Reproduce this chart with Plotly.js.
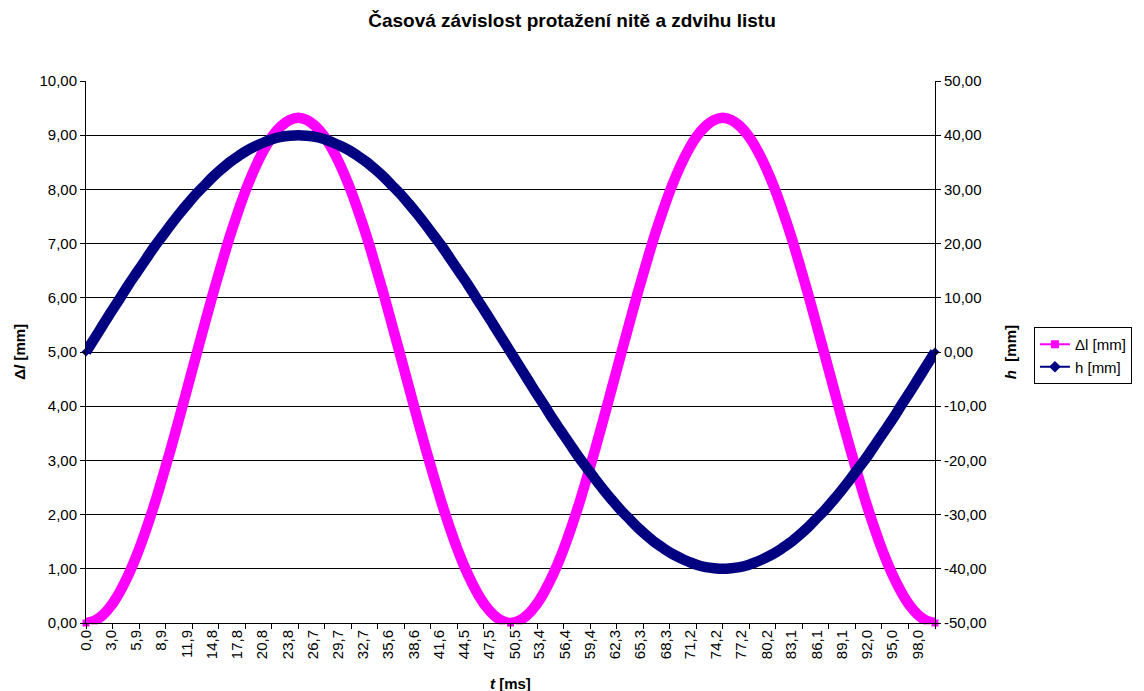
<!DOCTYPE html>
<html>
<head>
<meta charset="utf-8">
<script src="https://cdn.plot.ly/plotly-3.0.1.min.js"></script>
<style>html,body{margin:0;padding:0;background:#fff;}#chart{width:1144px;height:691px;}</style>
</head>
<body>
<div id="chart"></div>
<script>
// time [ms]
var t = [0,1,2,3,4,5,6,7,8,9,10,11,12,13,14,15,16,17,18,19,20,21,22,23,24,25,26,27,28,29,30,31,32,33,34,35,36,37,38,39,40,41,42,43,44,45,46,47,48,49,50,51,52,53,54,55,56,57,58,59,60,61,62,63,64,65,66,67,68,69,70,71,72,73,74,75,76,77,78,79,80,81,82,83,84,85,86,87,88,89,90,91,92,93,94,95,96,97,98,99,100];
// thread elongation Δl [mm]
var dl = [0.00,0.04,0.15,0.33,0.58,0.89,1.26,1.69,2.16,2.68,3.22,3.79,4.37,4.95,5.53,6.10,6.64,7.16,7.63,8.06,8.43,8.74,8.99,9.17,9.28,9.32,9.28,9.17,8.99,8.74,8.43,8.06,7.63,7.16,6.64,6.10,5.53,4.95,4.37,3.79,3.22,2.68,2.16,1.69,1.26,0.89,0.58,0.33,0.15,0.04,0.00,
          0.04,0.15,0.33,0.58,0.89,1.26,1.69,2.16,2.68,3.22,3.79,4.37,4.95,5.53,6.10,6.64,7.16,7.63,8.06,8.43,8.74,8.99,9.17,9.28,9.32,9.28,9.17,8.99,8.74,8.43,8.06,7.63,7.16,6.64,6.10,5.53,4.95,4.37,3.79,3.22,2.68,2.16,1.69,1.26,0.89,0.58,0.33,0.15,0.04,0.00];
// heald lift h [mm]
var h = [0.0,2.5,5.0,7.5,9.9,12.4,14.7,17.0,19.3,21.4,23.5,25.5,27.4,29.2,30.8,32.4,33.8,35.1,36.2,37.2,38.0,38.7,39.3,39.7,39.9,40.0,39.9,39.7,39.3,38.7,38.0,37.2,36.2,35.1,33.8,32.4,30.8,29.2,27.4,25.5,23.5,21.4,19.3,17.0,14.7,12.4,9.9,7.5,5.0,2.5,0.0,
         -2.5,-5.0,-7.5,-9.9,-12.4,-14.7,-17.0,-19.3,-21.4,-23.5,-25.5,-27.4,-29.2,-30.8,-32.4,-33.8,-35.1,-36.2,-37.2,-38.0,-38.7,-39.3,-39.7,-39.9,-40.0,-39.9,-39.7,-39.3,-38.7,-38.0,-37.2,-36.2,-35.1,-33.8,-32.4,-30.8,-29.2,-27.4,-25.5,-23.5,-21.4,-19.3,-17.0,-14.7,-12.4,-9.9,-7.5,-5.0,-2.5,0.0];

var xTickLabels = ["0,0","3,0","5,9","8,9","11,9","14,8","17,8","20,8","23,8","26,7","29,7","32,7","35,6","38,6","41,6","44,5","47,5","50,5","53,4","56,4","59,4","62,3","65,3","68,3","71,2","74,2","77,2","80,2","83,1","86,1","89,1","92,0","95,0","98,0"];
var yTickLabels = ["0,00","1,00","2,00","3,00","4,00","5,00","6,00","7,00","8,00","9,00","10,00"];
var y2TickLabels = ["-50,00","-40,00","-30,00","-20,00","-10,00","0,00","10,00","20,00","30,00","40,00","50,00"];

var xTickVals = xTickLabels.map(function(s){return parseFloat(s.replace(',', '.'));});
var yTickVals = yTickLabels.map(function(s){return parseFloat(s.replace(',', '.'));});
var y2TickVals = y2TickLabels.map(function(s){return parseFloat(s.replace(',', '.'));});

var FONT = 'Liberation Sans, Arial, sans-serif';
var MAG = '#FF00FF', NAVY = '#000080';

var traces = [
  {x: t, y: dl, type: 'scatter', mode: 'lines+markers', name: 'Δl [mm]', showlegend: false,
   line: {color: MAG, width: 10.5, shape: 'spline'}, marker: {symbol: 'square', size: 7, color: MAG},
   cliponaxis: false, hoverinfo: 'skip'},
  {x: t, y: h, type: 'scatter', mode: 'lines+markers', name: 'h [mm]', yaxis: 'y2', showlegend: false,
   line: {color: NAVY, width: 10.5, shape: 'spline'}, marker: {symbol: 'diamond', size: 7, color: NAVY},
   cliponaxis: false, hoverinfo: 'skip'},
  {x: [null], y: [null], type: 'scatter', mode: 'lines+markers', name: 'Δl [mm]',
   line: {color: MAG, width: 2}, marker: {symbol: 'square', size: 8, color: MAG}},
  {x: [null], y: [null], type: 'scatter', mode: 'lines+markers', name: 'h [mm]', yaxis: 'y2',
   line: {color: NAVY, width: 2}, marker: {symbol: 'diamond', size: 9, color: NAVY}}
];

var layout = {
  width: 1144, height: 691,
  margin: {l: 86, r: 200, t: 81, b: 68},
  paper_bgcolor: '#fff', plot_bgcolor: '#fff',
  font: {family: FONT, size: 15, color: '#000'},
  title: {text: '<b>Časová závislost protažení nitě a zdvihu listu</b>', font: {family: FONT, size: 19, color: '#000'},
          x: 0.5, xref: 'container', xanchor: 'center', y: 1 - 20/691, yref: 'container', yanchor: 'middle'},
  xaxis: {range: [0, 100], showgrid: false, zeroline: false, showline: true, linecolor: '#000', linewidth: 1,
          tickmode: 'array', tickvals: xTickVals, ticktext: xTickLabels, tickangle: -90,
          ticks: '', ticklen: 0, tickfont: {family: FONT, size: 15, color: '#000'},
          minor: {tickmode: 'linear', tick0: 0, dtick: 3.125, ticks: 'outside', ticklen: 5, tickcolor: '#000', showgrid: false}},
  yaxis: {range: [0, 10], tickmode: 'array', tickvals: yTickVals, ticktext: yTickLabels,
          showgrid: true, gridcolor: '#000', gridwidth: 1, zeroline: false, showline: true, linecolor: '#000', linewidth: 1,
          ticks: 'outside', ticklen: 5, tickcolor: '#000', tickfont: {family: FONT, size: 15, color: '#000'}},
  yaxis2: {range: [-50, 50], overlaying: 'y', side: 'right', tickmode: 'array', tickvals: y2TickVals, ticktext: y2TickLabels,
           showgrid: false, zeroline: false, showline: true, linecolor: '#000', linewidth: 1,
           ticks: 'outside', ticklen: 5, tickcolor: '#000', tickfont: {family: FONT, size: 15, color: '#000'}},
  legend: {x: (1044 - 86) / 858, y: (623 - 327) / 542, xanchor: 'left', yanchor: 'top',
           bordercolor: '#000', borderwidth: 1, bgcolor: '#fff', font: {family: FONT, size: 15, color: '#000'},
           tracegroupgap: 0},
  annotations: [
    {text: '<b>Δ<i>l</i> [mm]</b>', xref: 'paper', yref: 'paper', x: (18 - 86) / 858, y: (623 - 352) / 542,
     xanchor: 'center', yanchor: 'middle', textangle: -90, showarrow: false, font: {family: FONT, size: 15, color: '#000'}},
    {text: '<b><i>h</i>  [mm]</b>', xref: 'paper', yref: 'paper', x: (1020 - 86) / 858, y: (623 - 352) / 542,
     xanchor: 'center', yanchor: 'middle', textangle: -90, showarrow: false, font: {family: FONT, size: 15, color: '#000'}},
    {text: '<b><i>t</i> [ms]</b>', xref: 'paper', yref: 'paper', x: 0.5, y: (623 - 683) / 542,
     xanchor: 'center', yanchor: 'middle', showarrow: false, font: {family: FONT, size: 15, color: '#000'}}
  ]
};

Plotly.newPlot('chart', traces, layout, {staticPlot: true, displayModeBar: false});
</script>
</body>
</html>
